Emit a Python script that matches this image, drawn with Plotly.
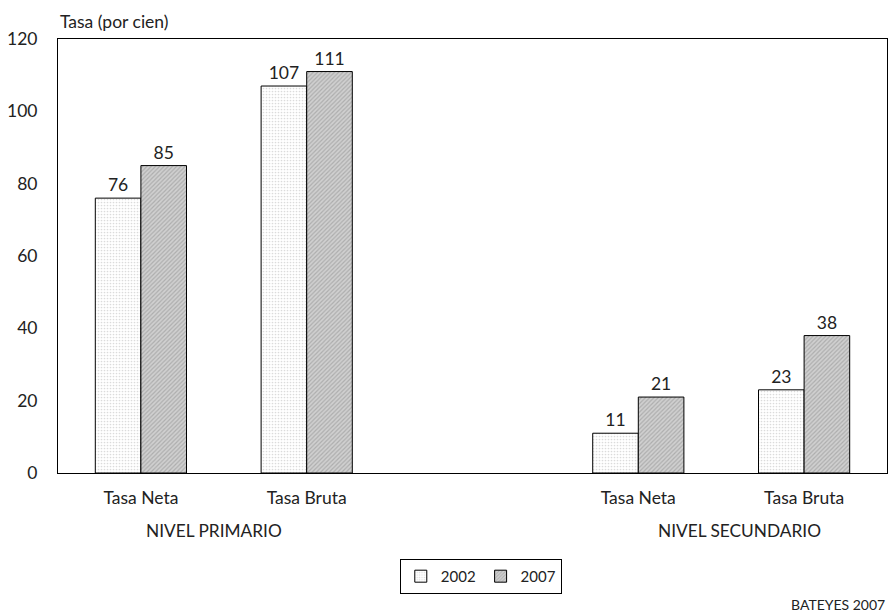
import plotly.graph_objects as go

positions = [0, 1, 3, 4]
tick_labels = ["Tasa Neta", "Tasa Bruta", "Tasa Neta", "Tasa Bruta"]
group_labels = ["NIVEL PRIMARIO", "NIVEL SECUNDARIO"]
group_pos = [0.44, 3.61]
values_2002 = [76, 107, 11, 23]
values_2007 = [85, 111, 21, 38]

FONT = "Lato"
TXT = "#222"
fig = go.Figure()
fig.add_trace(go.Bar(
    x=positions, y=values_2002, name="2002",
    width=0.275, offset=-0.275,
    marker=dict(color="white", line=dict(color="black", width=1),
                pattern=dict(shape=".", fgcolor="#b8b8b8", bgcolor="white", size=3, solidity=0.25)),
    text=values_2002, textposition="outside", cliponaxis=False,
    textfont=dict(size=17.5, color=TXT),
))
fig.add_trace(go.Bar(
    x=positions, y=values_2007, name="2007",
    width=0.275, offset=0,
    marker=dict(color="#c8c8c8", line=dict(color="black", width=1),
                pattern=dict(shape="/", fgcolor="#8a8a8a", bgcolor="#d0d0d0", size=3, solidity=0.4)),
    text=values_2007, textposition="outside", cliponaxis=False,
    textfont=dict(size=17.5, color=TXT),
))

for lbl, gx in zip(group_labels, group_pos):
    fig.add_annotation(x=gx, y=0, xref="x", yref="paper", yshift=-57, yanchor="middle",
                       text=lbl, showarrow=False, font=dict(size=17.3, color=TXT))
fig.add_annotation(x=0, y=1, xref="paper", yref="paper", yshift=18, xshift=0,
                   xanchor="left", yanchor="middle",
                   text="Tasa (por cien)", showarrow=False, font=dict(size=17.5, color=TXT))
fig.add_annotation(x=1, y=0, xref="paper", yref="paper", xanchor="right", yanchor="middle",
                   xshift=0, yshift=-131,
                   text="BATEYES 2007", showarrow=False, font=dict(size=14, color=TXT))

fig.update_layout(
    width=888, height=608,
    margin=dict(l=50, r=9, t=31, b=143, autoexpand=False),
    paper_bgcolor="white", plot_bgcolor="white",
    font=dict(family=FONT, size=17.5, color=TXT),
    showlegend=True,
    legend=dict(orientation="h", x=0.51, xanchor="center", y=-0.198, yanchor="top",
                bordercolor="black", borderwidth=1, font=dict(size=15),
                itemwidth=30, tracegroupgap=0),
)
fig.update_xaxes(range=[-0.5, 4.5], tickvals=positions, ticktext=tick_labels,
                 showline=True, linecolor="black", linewidth=1, mirror=True,
                 showgrid=False, ticks="", ticklabelstandoff=9, automargin=False,
                 tickfont=dict(size=17.5), zeroline=False)
fig.update_yaxes(range=[0, 120], dtick=20, showline=True, linecolor="black", linewidth=1,
                 mirror=True, showgrid=False, ticks="", ticklabelstandoff=16, automargin=False,
                 tickfont=dict(size=17.5), zeroline=False)

fig.write_html("out.html")
